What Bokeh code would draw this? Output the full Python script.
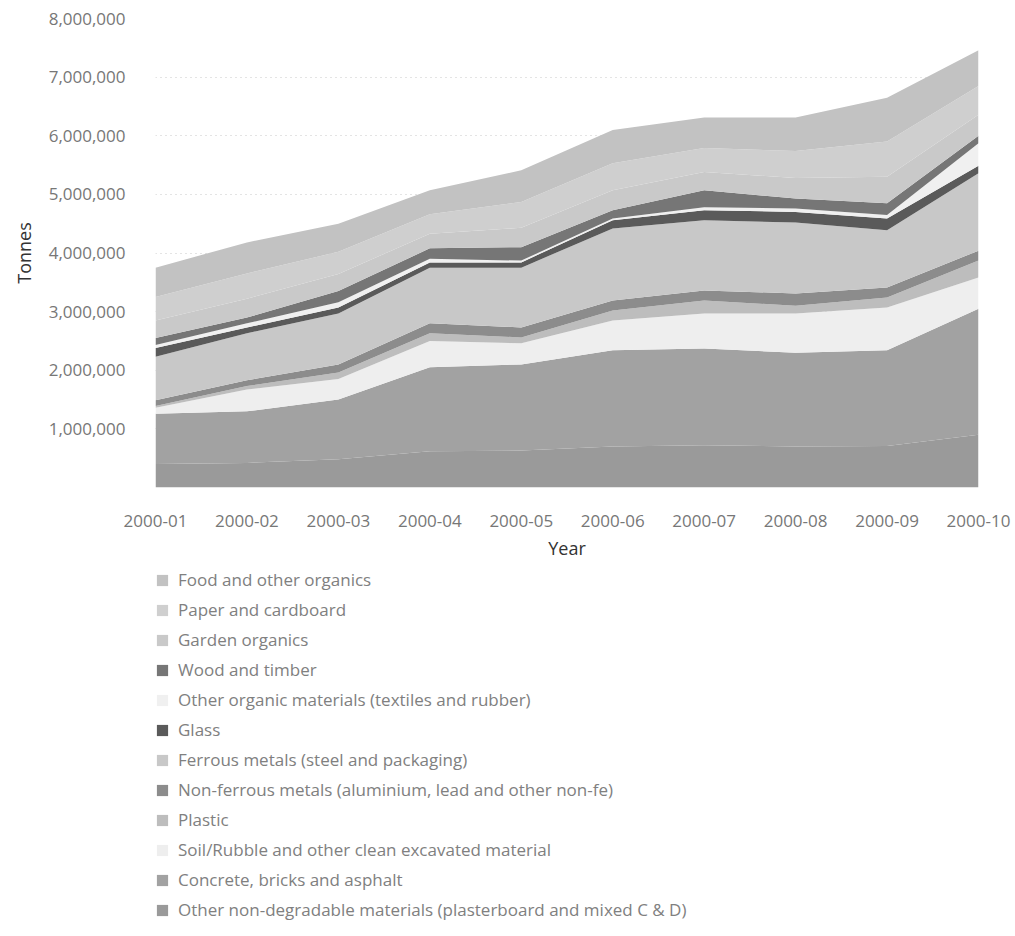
from bokeh.plotting import figure
from bokeh.layouts import column
from bokeh.models import ColumnDataSource, Legend, LegendItem, FixedTicker, Range1d, NumeralTickFormatter
from bokeh.embed import file_html
from bokeh.resources import INLINE

years = ["2000-01", "2000-02", "2000-03", "2000-04", "2000-05",
         "2000-06", "2000-07", "2000-08", "2000-09", "2000-10"]

# values in tonnes (stacked from bottom to top)
other_non_degradable = [400000, 420000, 480000, 620000, 630000, 700000, 720000, 700000, 710000, 900000]
concrete = [860000, 880000, 1020000, 1430000, 1470000, 1640000, 1650000, 1600000, 1630000, 2150000]
soil = [100000, 370000, 350000, 450000, 360000, 510000, 600000, 670000, 730000, 530000]
plastic = [30000, 60000, 110000, 130000, 100000, 170000, 220000, 130000, 170000, 290000]
non_ferrous = [100000, 100000, 140000, 170000, 170000, 170000, 170000, 210000, 170000, 170000]
ferrous = [740000, 800000, 870000, 950000, 1020000, 1230000, 1200000, 1210000, 980000, 1320000]
glass = [150000, 100000, 100000, 90000, 90000, 140000, 170000, 180000, 200000, 130000]
other_organic = [50000, 70000, 90000, 60000, 30000, 30000, 50000, 60000, 60000, 380000]
wood = [120000, 100000, 190000, 180000, 230000, 140000, 290000, 170000, 200000, 130000]
garden = [300000, 320000, 290000, 250000, 330000, 340000, 310000, 350000, 450000, 360000]
paper = [400000, 430000, 380000, 330000, 440000, 460000, 410000, 460000, 600000, 490000]
food = [500000, 530000, 480000, 410000, 540000, 570000, 520000, 570000, 750000, 610000]

series = [
    ("other_nd", "Other non-degradable materials (plasterboard and mixed C & D)", other_non_degradable, "#9a9a9a"),
    ("concrete", "Concrete, bricks and asphalt", concrete, "#a2a2a2"),
    ("soil", "Soil/Rubble and other clean excavated material", soil, "#eeeeee"),
    ("plastic", "Plastic", plastic, "#bdbdbd"),
    ("non_ferrous", "Non-ferrous metals (aluminium, lead and other non-fe)", non_ferrous, "#8c8c8c"),
    ("ferrous", "Ferrous metals (steel and packaging)", ferrous, "#c8c8c8"),
    ("glass", "Glass", glass, "#5a5a5a"),
    ("other_org", "Other organic materials (textiles and rubber)", other_organic, "#f0f0f0"),
    ("wood", "Wood and timber", wood, "#767676"),
    ("garden", "Garden organics", garden, "#c9c9c9"),
    ("paper", "Paper and cardboard", paper, "#cfcfcf"),
    ("food", "Food and other organics", food, "#c2c2c2"),
]

data = {"x": list(range(len(years)))}
for key, _, vals, _ in series:
    data[key] = vals
source = ColumnDataSource(data)
keys = [s[0] for s in series]
colors = [s[3] for s in series]

p = figure(frame_width=823, frame_height=469, output_backend="svg", toolbar_location=None,
           x_range=Range1d(0, len(years) - 1), y_range=Range1d(0, 8000000),
           min_border_left=155, min_border_right=37, min_border_top=18,
           min_border_bottom=0)
p.outline_line_color = None

renderers = p.varea_stack(stackers=keys, x="x", color=colors, source=source)

# axes
p.xaxis.ticker = FixedTicker(ticks=list(range(len(years))))
p.xaxis.major_label_overrides = {i: y for i, y in enumerate(years)}
p.yaxis.ticker = FixedTicker(ticks=[1000000, 2000000, 3000000, 4000000, 5000000, 6000000, 7000000, 8000000])
p.yaxis.formatter = NumeralTickFormatter(format="0,0")
for ax in (p.xaxis, p.yaxis):
    ax.axis_line_color = None
    ax.major_tick_line_color = None
    ax.minor_tick_line_color = None
    ax.major_label_text_font = "Open Sans"
    ax.major_label_text_color = "#777777"
    ax.major_label_text_font_size = "17px"
    ax.axis_label_text_font = "Open Sans"
    ax.axis_label_text_font_style = "normal"
    ax.axis_label_text_color = "#333333"
    ax.axis_label_text_font_size = "18px"
p.xaxis.axis_label = "Year"
p.yaxis.axis_label = "Tonnes"
p.xaxis.major_label_standoff = 21
p.xaxis.axis_label_standoff = 6
p.yaxis.major_label_standoff = 24
p.yaxis.axis_label_standoff = 10

p.xgrid.grid_line_color = None
p.ygrid.grid_line_color = "#c8c8c8"
p.ygrid.grid_line_dash = "1 4"

# legend figure (series drawn outside its visible range, only the legend shows)
p2 = figure(frame_width=823, frame_height=355, output_backend="svg", toolbar_location=None,
            x_range=Range1d(0, len(years) - 1), y_range=Range1d(-2, -1),
            min_border_left=155, min_border_right=37, min_border_top=6,
            min_border_bottom=0, x_axis_location=None, y_axis_location=None)
p2.outline_line_color = None
p2.grid.grid_line_color = None
leg_renderers = p2.varea_stack(stackers=keys, x="x", color=colors, source=source)

items = [LegendItem(label=s[1], renderers=[r]) for s, r in zip(series, leg_renderers)]
items.reverse()
legend = Legend(items=items, location="top_left", orientation="vertical",
                margin=0, padding=0, border_line_color=None,
                background_fill_alpha=0,
                glyph_width=14, glyph_height=14, label_height=20,
                spacing=7, label_standoff=9,
                label_text_font="Open Sans", label_text_font_size="17px",
                label_text_color="#808080")
p2.add_layout(legend, "center")

layout = column(p, p2, spacing=0)
open("out.html", "w").write(file_html(layout, INLINE))
